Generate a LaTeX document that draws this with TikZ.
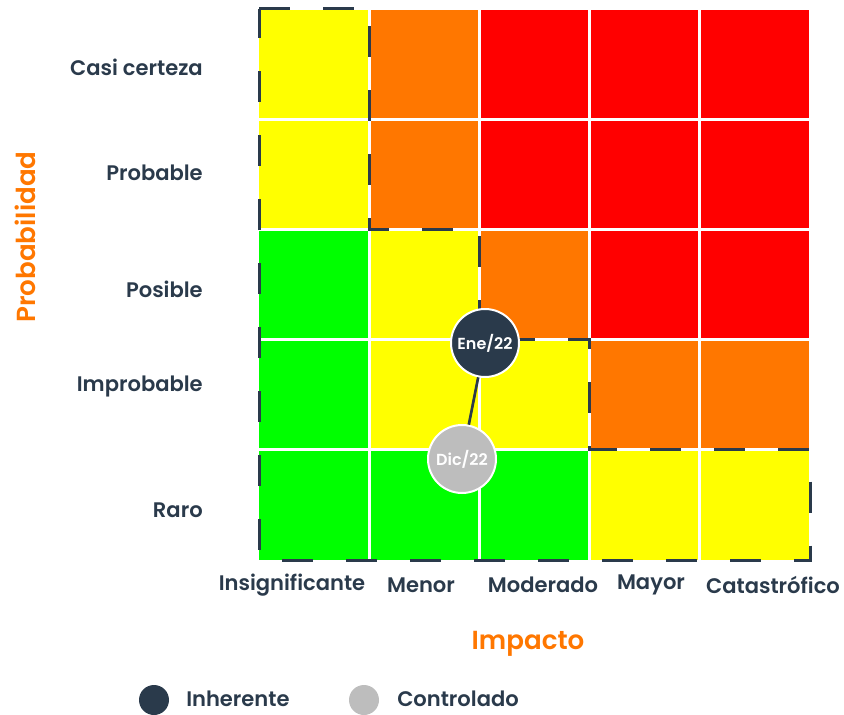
\documentclass[tikz,border=0pt]{standalone}
\usepackage{fontspec}
\setmainfont{Poppins}[BoldFont={Poppins SemiBold}]
\definecolor{cY}{HTML}{FFFF00}
\definecolor{cO}{HTML}{FF7700}
\definecolor{cR}{HTML}{FF0000}
\definecolor{cG}{HTML}{00FF00}
\definecolor{dark}{HTML}{2A3A4B}
\definecolor{lgrey}{HTML}{BDBDBD}
\definecolor{axorange}{HTML}{FF7700}
\tikzset{
  lab/.style={text=dark, font=\bfseries\fontsize{15.8}{18}\selectfont, inner sep=0pt},
  axt/.style={text=axorange, font=\bfseries\fontsize{19.6}{23}\selectfont, inner sep=0pt},
  dot/.style={circle, draw=white, line width=1.5pt, minimum size=51pt, inner sep=0pt, text=white, font=\bfseries\fontsize{12}{14}\selectfont},
  legdot/.style={circle, minimum size=22.5pt, inner sep=0pt},
  outline/.style={draw=dark, line width=2.25pt, dash pattern=on 23.25pt off 24.75pt}
}
\begin{document}
\begin{tikzpicture}[x=0.75pt,y=-0.75pt]
\useasboundingbox (0,0) rectangle (844,715);
\foreach \row [count=\r from 0] in {{Y,O,R,R,R},{Y,O,R,R,R},{G,Y,O,R,R},{G,Y,Y,O,O},{G,G,G,Y,Y}} {
  \foreach \c [count=\k from 0] in \row {
    \fill[c\c] (259+110*\k, 9.5+110*\r) rectangle ++(110,110);
  }
}
\foreach \k in {1,...,4} {
  \draw[white, line width=2.25pt] (259+110*\k, 9.5) -- ++(0,550);
  \draw[white, line width=2.25pt] (259, 9.5+110*\k) -- ++(550,0);
}
\draw[outline] (259,8.5) -- (369.5,8.5) -- (369.5,229.5) -- (479.5,229.5) -- (479.5,339.5) -- (589.5,339.5) -- (589.5,449.5) -- (810,449.5) -- (810,560) -- (259,560) -- cycle;
% row labels
\node[lab, anchor=east] (l1) at (203,67) {Casi certeza};
\node[lab, anchor=east] (l2) at (203,173) {Probable};
\node[lab, anchor=east] (l3) at (203,289) {Posible};
\node[lab, anchor=east] (l4) at (203,386) {Improbable};
\node[lab, anchor=east] (l5) at (203,510) {Raro};
% column labels
\node[lab] (c1) at (292,585) {Insignificante};
\node[lab] (c2) at (421,585) {Menor};
\node[lab] (c3) at (543,585) {Moderado};
\node[lab] (c4) at (651,585) {Mayor};
\node[lab] (c5) at (773,585) {Catastrófico};
% axis titles
\node[axt] (ximp) at (528,644) {Impacto};
\node[axt, rotate=90] (yprob) at (25,237) {Probabilidad};
% points
\node[dot, fill=dark] (ene) at (485,343) {Ene/22};
\node[dot, fill=lgrey] (dic) at (462,459) {Dic/22};
\draw[dark, line width=2pt] (ene) -- (dic);
% legend
\node[legdot, fill=dark] (lg1) at (154,700) {};
\node[lab, anchor=base west, text depth=0pt] (lt1) at (186,706) {Inherente};
\node[legdot, fill=lgrey] (lg2) at (364,700) {};
\node[lab, anchor=base west, text depth=0pt] (lt2) at (397,706) {Controlado};
\end{tikzpicture}
\end{document}
